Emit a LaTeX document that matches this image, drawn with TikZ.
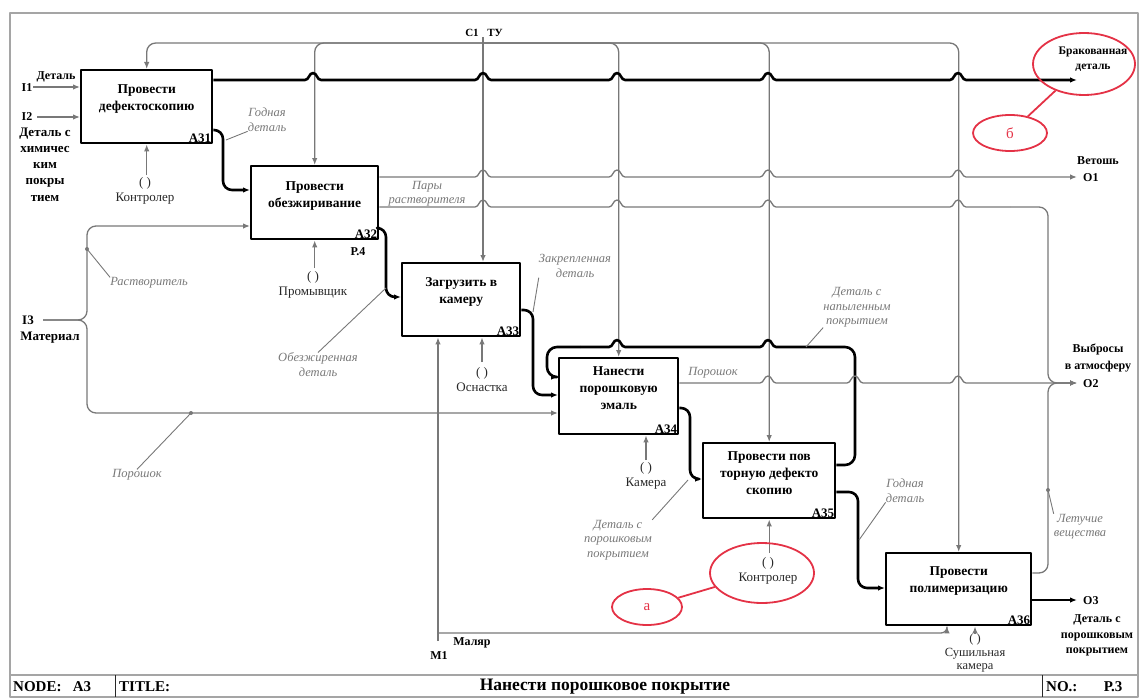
\documentclass[tikz,border=0pt]{standalone}
\usepackage{fontspec}
\setmainfont{Liberation Serif}
\usetikzlibrary{arrows.meta,calc,shapes.geometric}
\definecolor{lg}{RGB}{120,120,120}
\definecolor{dk}{RGB}{40,40,40}
\definecolor{rd}{RGB}{228,50,70}
\definecolor{fr}{RGB}{165,165,165}
\newcommand\hpr[2]{-- ({#1-8},#2) .. controls ({#1-4},#2) and ({#1-4},{#2-7}) .. (#1,{#2-7}) .. controls ({#1+4},{#2-7}) and ({#1+4},#2) .. ({#1+8},#2)}
\newcommand\hpl[2]{-- ({#1+8},#2) .. controls ({#1+4},#2) and ({#1+4},{#2-7}) .. (#1,{#2-7}) .. controls ({#1-4},{#2-7}) and ({#1-4},#2) .. ({#1-8},#2)}
\tikzset{
  box/.style={draw=black,line width=2.4pt,fill=white,inner sep=0pt,anchor=north west},
  thk/.style={draw=black,line width=2.6pt},
  gl/.style={draw=lg,line width=1.3pt},
  arr/.style={-{Latex[length=7pt,width=5.5pt]}},
  ldr/.style={draw=lg,line width=0.9pt},
  ttl/.style={font=\fontsize{13.5}{17}\selectfont\bfseries,align=center,inner sep=0pt},
  idl/.style={font=\fontsize{13}{14}\selectfont\bfseries,anchor=south east,inner sep=2pt},
  itl/.style={font=\fontsize{12.5}{14.5}\selectfont\itshape,text=lg,align=center,inner sep=0pt},
  mech/.style={font=\fontsize{13}{15}\selectfont,text=dk,align=center,inner sep=0pt},
  side/.style={font=\fontsize{13}{16.25}\selectfont\bfseries,align=center,inner sep=0pt},
  redell/.style={draw=rd,line width=1.8pt,ellipse,inner sep=0pt},
  tbar/.style={font=\fontsize{15}{16}\selectfont\bfseries,inner sep=0pt},
}
\begin{document}
\begin{tikzpicture}[x=1pt,y=-1pt,line join=round]
\useasboundingbox (0,0) rectangle (1139,698);
% frame
\draw[fr,line width=1.6pt] (10,13) rectangle (1138,697);
\draw[fr,line width=1.6pt] (10,675) -- (1138,675);
\draw[dk,line width=1pt] (115,675) -- (115,697);
\draw[dk,line width=1pt] (1042,675) -- (1042,697);
\node[tbar,anchor=west] (node) at (13,687) {NODE:\ \ \ A3};
\node[tbar,anchor=west] (title) at (119,687) {TITLE:};
\node[tbar,font=\fontsize{17.5}{18}\selectfont\bfseries] (tname) at (605,687) {Нанести порошковое покрытие};
\node[tbar,anchor=west] (no) at (1046,687) {NO.:};
\node[tbar] (nop) at (1113,687) {Р.3};

% boxes
\node[box,minimum width=131pt,minimum height=73pt] (A31) at (80,69) {};
\node[box,minimum width=127pt,minimum height=73pt] (A32) at (250,165) {};
\node[box,minimum width=118pt,minimum height=73pt] (A33) at (401,262) {};
\node[box,minimum width=119pt,minimum height=76pt] (A34) at (558,357) {};
\node[box,minimum width=132pt,minimum height=75pt] (A35) at (702,442) {};
\node[box,minimum width=145pt,minimum height=72pt] (A36) at (885,552) {};
\node[ttl] (t31) at ([yshift=7.5pt]A31.center) {Провести\\дефектоскопию};
\node[ttl] (t32) at ([yshift=7pt]A32.center) {Провести\\обезжиривание};
\node[ttl] (t33) at ([yshift=8pt]A33.center) {Загрузить в\\камеру};
\node[ttl] (t34) at ([yshift=8pt]A34.center) {Нанести\\порошковую\\эмаль};
\node[ttl] (t35) at ([yshift=8pt]A35.center) {Провести пов\\торную дефекто\\скопию};
\node[ttl] (t36) at ([yshift=8pt]A36.center) {Провести\\полимеризацию};
\node[idl] (i31) at (A31.south east) {A31};
\node[idl] (i32) at (A32.south east) {A32};
\node[idl] (i33) at (A33.south east) {A33};
\node[idl] (i34) at (A34.south east) {A34};
\node[idl] (i35) at (A35.south east) {A35};
\node[idl] (i36) at (A36.south east) {A36};
\node[side,font=\fontsize{12}{14}\selectfont\bfseries] (p4) at (358,252) {Р.4};

% inputs
\coordinate (I1) at (33,87);
\coordinate (I2) at (37,117);
\coordinate (I3) at (43,320);
\node[side,font=\fontsize{12}{14}\selectfont\bfseries] (lI1) at (27,88) {I1};
\node[side,font=\fontsize{12}{14}\selectfont\bfseries] (lI1b) at (56,77) {Деталь};
\node[side,font=\fontsize{12}{14}\selectfont\bfseries] (lI2) at (27,117) {I2};
\node[side] (lI2b) at (45,164.5) {Деталь с\\химичес\\ким\\покры\\тием};
\node[side] (lI3) at (28,320) {I3};
\node[side] (lI3b) at (50,338) {Материал};
\draw[gl,arr] (I1) -- (A31.west |- I1);
\draw[gl,arr] (I2) -- (A31.west |- I2);
\draw[gl,arr,rounded corners=9] (I3) -- (87,320) -- (87,226) -- (A32.west |- 0,226);
\draw[gl,arr,rounded corners=9] (I3) -- (87,320) -- (87,413) -- (A34.west |- 0,413);

% controls
\coordinate (C1) at (483,37);
\coordinate (Cj) at (483,43);
\node[side,font=\fontsize{11}{13}\selectfont\bfseries] (lC1) at (472,33) {C1};
\node[side,font=\fontsize{11}{13}\selectfont\bfseries] (lC1b) at (495,33) {ТУ};
\draw[gl] (C1) -- (Cj);
\draw[gl,arr,rounded corners=9] (Cj) -| (A31.north);
\draw[gl,arr,rounded corners=9] (Cj) -| (A32.north);
\draw[gl,arr] (Cj) -- (Cj |- A33.north);
\draw[gl,arr,rounded corners=9] (Cj) -| (A34.north);
\draw[gl,arr,rounded corners=9] (Cj) -| (A35.north);
\draw[gl,arr,rounded corners=9] (Cj) -| (A36.north);

% mechanisms
\draw[gl,arr] (A31.south |- 0,175) -- (A31.south);
\node[mech] (m31) at (145,190.5) {( )\\Контролер};
\draw[gl,arr] (A32.south |- 0,268) -- (A32.south);
\node[mech] (m32) at (313,284.5) {( )\\Промывщик};
\draw[gl,arr] (482,362) -- (A33.south -| 482,0);
\node[mech] (m33) at (482,379.5) {( )\\Оснастка};
\draw[gl,arr] (646,460) -- (A34.south -| 646,0);
\node[mech] (m34) at (646,476) {( )\\Камера};
\draw[gl,arr] (A35.south |- 0,553) -- (A35.south);
\node[mech] (m35) at (768,570.5) {( )\\Контролер};
\draw[gl,arr] (975,633) -- (A36.south -| 975,0);
\node[mech,font=\fontsize{12.5}{13.5}\selectfont] (m36) at (975,653) {( )\\Сушильная\\камера};
\coordinate (M1) at (438,641);
\draw[gl,arr] (M1) -- (A33.south -| M1);
\draw[gl,arr,rounded corners=6] (438,633) -| (A36.south -| 947,0);
\node[side,font=\fontsize{12}{14}\selectfont\bfseries] (lM1b) at (472,643) {Маляр};
\node[side,font=\fontsize{12}{14}\selectfont\bfseries] (lM1) at (439,656) {M1};

% thick flow
\coordinate (O0) at (1077,80);
\draw[thk,arr] (A31.east |- O0) \hpr{313}{80} \hpr{483}{80} \hpr{617}{80} \hpr{768}{80} \hpr{958}{80} -- (O0);
\draw[thk,arr,rounded corners=9] (A31.east |- 0,130) -- (223,130) -- (223,190) -- (A32.west |- 0,190);
\draw[thk,arr,rounded corners=9] (A32.east |- 0,228) -- (386,228) -- (386,297) -- (A33.west |- 0,297);
\draw[thk,arr,rounded corners=9] (A33.east |- 0,310) -- (533,310) -- (533,395) -- (A34.west |- 0,395);
\draw[thk,arr,rounded corners=9] (A34.east |- 0,408) -- (690,408) -- (690,479) -- (A35.west |- 0,479);
\draw[thk,arr,rounded corners=9] (A35.east |- 0,492) -- (858,492) -- (858,588) -- (A36.west |- 0,588);
% feedback (split so that hops stay sharp)
\coordinate (fb1) at (810,347);
\coordinate (fb2) at (580,347);
\draw[thk,rounded corners=10] (A35.east |- 0,465) -- (855,465) -- (855,347) -- (fb1);
\draw[thk] (fb1) \hpl{768}{347} \hpl{617}{347} -- (fb2);
\draw[thk,arr,rounded corners=10] (fb2) -- (547,347) -- (547,377) -- (A34.west |- 0,377);
\coordinate (O3) at (1077,600);
\draw[thk,arr] (A36.east |- O3) -- (O3);

% gray outputs
\coordinate (O1) at (1077,177);
\coordinate (O2) at (1077,383);
\coordinate (pj) at (1010,207);
\draw[gl,arr] (A32.east |- O1) \hpr{483}{177} \hpr{617}{177} \hpr{768}{177} \hpr{958}{177} -- (O1);
\draw[gl] (A32.east |- 0,207) \hpr{483}{207} \hpr{617}{207} \hpr{768}{207} \hpr{958}{207} -- (pj);
\draw[gl,arr,rounded corners=9] (pj) -- (1048,207) -- (1048,383) -- (O2);
\draw[gl,arr] (A34.east |- O2) \hpr{768}{383} \hpr{855}{383} \hpr{958}{383} -- (O2);
\draw[gl,arr,rounded corners=9] (A36.east |- 0,573) -- (1048,573) -- (1048,383) -- (O2);

% output labels
\node[side,font=\fontsize{11.5}{15}\selectfont\bfseries] (lO0) at (1093,59.5) {Бракованная\\деталь};
\node[side,font=\fontsize{12}{14}\selectfont\bfseries] (lO1b) at (1098,161) {Ветошь};
\node[side,font=\fontsize{12}{14}\selectfont\bfseries,anchor=west] (lO1) at (1083,178) {O1};
\node[side,font=\fontsize{12}{17}\selectfont\bfseries] (lO2b) at (1098,357.5) {Выбросы\\в атмосферу};
\node[side,font=\fontsize{12}{14}\selectfont\bfseries,anchor=west] (lO2) at (1083,384) {O2};
\node[side,font=\fontsize{12}{14}\selectfont\bfseries,anchor=west] (lO3) at (1083,601) {O3};
\node[side,font=\fontsize{12}{15.5}\selectfont\bfseries] (lO3b) at (1097,635.5) {Деталь с\\порошковым\\покрытием};

% italic leader labels
\fill[lg] (87,249) circle (2pt);
\fill[lg] (191,413) circle (2pt);
\fill[lg] (1048,490) circle (2pt);
\node[itl] (g1) at (267,119.5) {Годная\\деталь};
\draw[ldr] (226,140) -- (g1.south west);
\node[itl] (rs) at (149,283) {Растворитель};
\draw[ldr] (87,249) -- (rs.north west);
\node[itl] (pr1) at (137,475) {Порошок};
\draw[ldr] (191,413) -- (pr1.north);
\node[itl] (ob) at (318,364.5) {Обезжиренная\\деталь};
\draw[ldr] (386,288) -- (ob.north);
\node[itl] (zk) at (575,266) {Закрепленная\\деталь};
\draw[ldr] (533,312) -- (zk.south west);
\node[itl] (nap) at (857,307.5) {Деталь с\\напыленным\\покрытием};
\draw[ldr] (806,347) -- (nap.south west);
\node[itl] (prk) at (618,540) {Деталь с\\порошковым\\покрытием};
\draw[ldr] (688,480) -- (prk.north east);
\node[itl] (g2) at (905,490.5) {Годная\\деталь};
\draw[ldr] (859,540) -- (g2.south west);
\node[itl] (let) at (1080,526.5) {Летучие\\вещества};
\draw[ldr] (1048,490) -- (let.north west);
\node[itl] (pary) at (427,193.5) {Пары\\растворителя};
\node[itl] (pr2) at (713,373) {Порошок};

% red annotations
\node[redell,minimum width=102pt,minimum height=62pt] (e1) at (1084,64) {};
\node[redell,minimum width=74pt,minimum height=36pt,text=rd,font=\fontsize{15}{16}\selectfont] (eb) at (1010,133) {б};
\draw[rd,line width=1.8pt] (eb) -- (e1);
\node[redell,minimum width=104pt,minimum height=60pt] (e2) at (762,573) {};
\node[redell,minimum width=70pt,minimum height=36pt,text=rd,font=\fontsize{15}{16}\selectfont] (ea) at (647,607) {а};
\draw[rd,line width=1.8pt] (ea) -- (e2);
\end{tikzpicture}
\end{document}
